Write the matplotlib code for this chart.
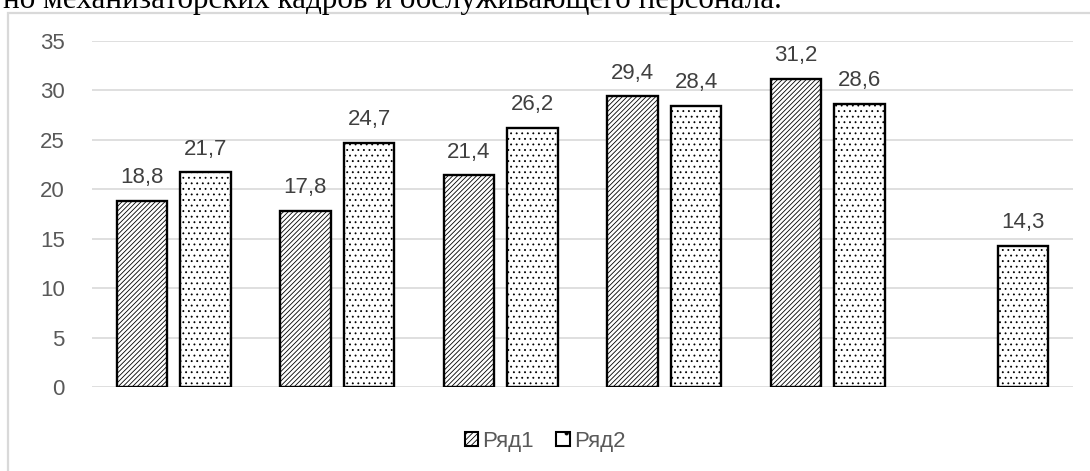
import matplotlib
matplotlib.use("Agg")
import matplotlib.pyplot as plt
import numpy as np
from matplotlib.patches import Rectangle, Patch

categories = ["1", "2", "3", "4", "5", "6"]
series1 = [18.8, 17.8, 21.4, 29.4, 31.2, None]
series2 = [21.7, 24.7, 26.2, 28.4, 28.6, 14.3]
series_names = ["Ряд1", "Ряд2"]
yticks = [0, 5, 10, 15, 20, 25, 30, 35]

plt.rcParams['font.family'] = ['Liberation Sans', 'DejaVu Sans']
plt.rcParams['hatch.linewidth'] = 0.6

HATCH1 = '/' * 7
HATCH2 = '...'

fig = plt.figure(figsize=(10.9, 4.71), dpi=100)
fig.patch.set_facecolor('white')

# outer chart frame
fig.patches.append(Rectangle((8/1090, -0.05), 1.2, 1 - 12.5/471 + 0.05, transform=fig.transFigure,
                             fill=False, edgecolor='#d9d9d9', linewidth=1.6))

# cropped caption line above chart
fig.text(3/1090, 1 - 8/471, "но механизаторских кадров и обслуживающего персонала.",
         family='Liberation Serif', fontsize=22.4, va='baseline', ha='left', color='black')

ax = fig.add_axes([92/1090, 1 - 387/471, (1073 - 92)/1090, (387 - 41)/471])
x = np.arange(len(categories))
w = 0.31
off = 0.195

def fmt(v):
    return f"{v:.1f}".replace('.', ',')

for i, v in enumerate(series1):
    if v is None:
        continue
    ax.bar(x[i] - off, v, w, facecolor='white', edgecolor='black', linewidth=1.7,
           hatch=HATCH1, zorder=3)
    ax.text(x[i] - off, v + 1.8, fmt(v), ha='center', va='baseline',
            fontsize=16, color='#404040')
for i, v in enumerate(series2):
    ax.bar(x[i] + off, v, w, facecolor='white', edgecolor='black', linewidth=1.7,
           hatch=HATCH2, zorder=3)
    ax.text(x[i] + off, v + 1.8, fmt(v), ha='center', va='baseline',
            fontsize=16, color='#404040')

ax.set_xlim(-0.5, len(categories) - 0.5)
ax.set_ylim(0, 35)
ax.set_yticks(yticks)
ax.set_yticklabels([str(t) for t in yticks], fontsize=16, color='#595959')
ax.tick_params(axis='y', length=0, pad=19.5)
ax.set_xticks([])
ax.grid(axis='y', color='#d9d9d9', linewidth=1.2, zorder=0)
for s in ax.spines.values():
    s.set_visible(False)

handles = [Patch(facecolor='white', edgecolor='black', hatch='//////', linewidth=1.5),
           Patch(facecolor='white', edgecolor='black', hatch='.', linewidth=1.5)]
fig.legend(handles, series_names, loc='center', bbox_to_anchor=(545/1090, 1 - 441/471),
           ncol=2, frameon=False, fontsize=16, labelcolor='#595959',
           handlelength=0.6, handleheight=0.6, handletextpad=0.2, columnspacing=1.0)

fig.savefig("out.png", dpi=100)
